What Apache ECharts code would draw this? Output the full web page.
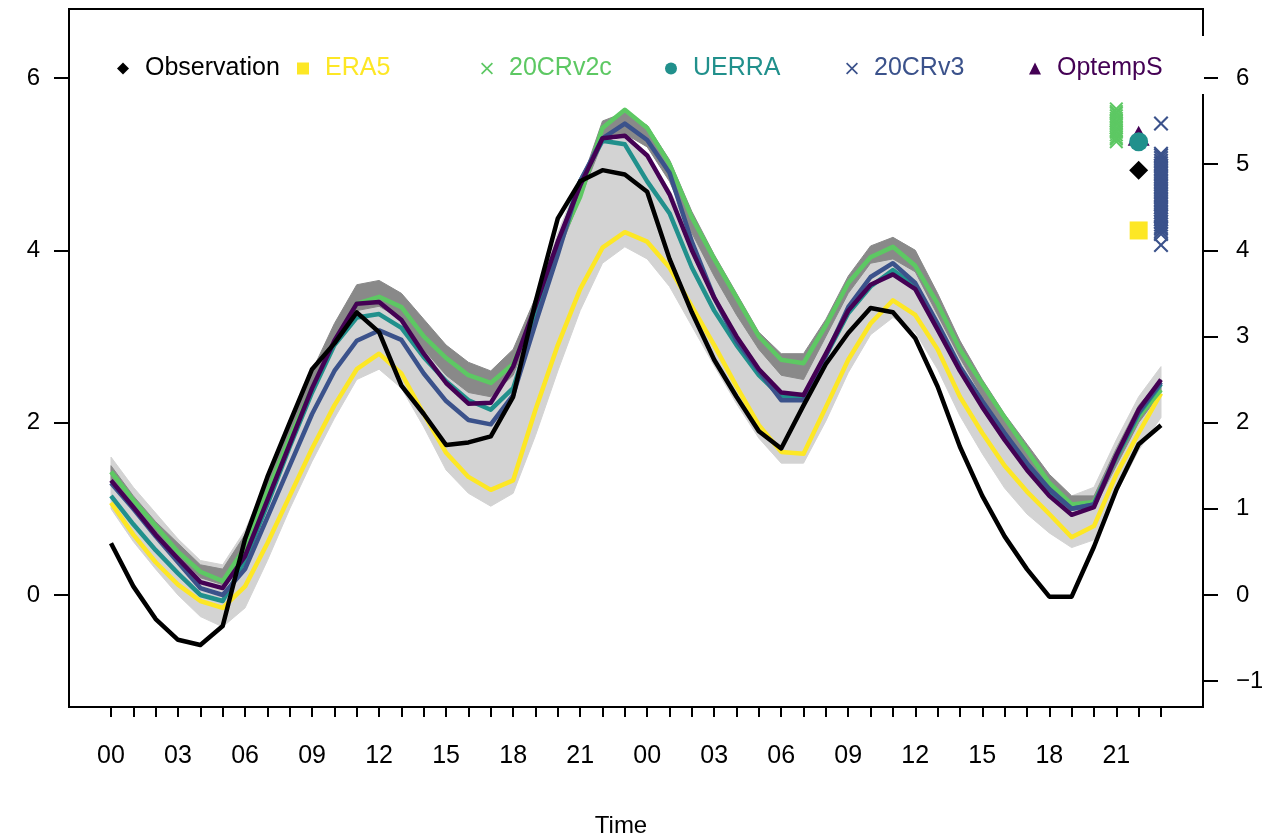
<!DOCTYPE html>
<html>
<head>
<meta charset="utf-8">
<script src="https://cdn.jsdelivr.net/npm/echarts@6/dist/echarts.min.js"></script>
<style>
html,body{margin:0;padding:0;background:#fff;}
#chart{width:1262px;height:840px;}
</style>
</head>
<body>
<div id="chart"></div>
<script>
// ---- data ----
const hours = ['00','01','02','03','04','05','06','07','08','09','10','11','12','13','14','15','16','17','18','19','20','21','22','23',
               '00','01','02','03','04','05','06','07','08','09','10','11','12','13','14','15','16','17','18','19','20','21','22','23'];
const xLabelTicks = [0,3,6,9,12,15,18,21,24,27,30,33,36,39,42,45];
const yTicksLeft = [0,2,4,6];
const yTicksRight = [-1,0,1,2,3,4,5,6];

const observation = [0.60,0.10,-0.28,-0.52,-0.58,-0.36,0.65,1.37,2.00,2.62,2.92,3.28,3.05,2.43,2.10,1.74,1.77,1.84,2.30,3.40,4.37,4.80,4.93,4.88,4.68,3.90,3.28,2.73,2.30,1.90,1.70,2.20,2.68,3.04,3.33,3.28,2.98,2.42,1.72,1.15,0.68,0.30,-0.02,-0.02,0.56,1.22,1.75,1.97];
const era5 = [1.07,0.70,0.38,0.12,-0.07,-0.15,0.10,0.60,1.15,1.70,2.20,2.62,2.80,2.57,2.10,1.65,1.37,1.22,1.33,2.15,2.90,3.55,4.03,4.21,4.10,3.80,3.35,2.90,2.42,1.97,1.66,1.64,2.18,2.73,3.15,3.42,3.25,2.85,2.30,1.88,1.50,1.20,0.94,0.67,0.80,1.40,1.88,2.34];
const c20v2c = [1.43,1.10,0.80,0.50,0.27,0.16,0.55,1.20,1.82,2.40,2.92,3.38,3.46,3.34,3.00,2.75,2.55,2.46,2.68,3.30,4.05,4.62,5.42,5.63,5.42,5.00,4.38,3.90,3.45,3.00,2.73,2.69,3.13,3.62,3.92,4.04,3.82,3.38,2.85,2.45,2.06,1.68,1.30,1.05,1.08,1.60,2.07,2.38];
const uerra = [1.15,0.82,0.52,0.25,0.00,-0.07,0.40,1.05,1.72,2.35,2.90,3.22,3.26,3.10,2.76,2.48,2.26,2.15,2.40,3.20,4.05,4.80,5.27,5.23,4.80,4.43,3.80,3.30,2.90,2.55,2.30,2.30,2.78,3.27,3.58,3.77,3.58,3.10,2.62,2.22,1.85,1.50,1.21,1.00,1.05,1.60,2.10,2.45];
const c20v3 = [1.30,1.00,0.68,0.38,0.08,0.00,0.30,0.90,1.50,2.10,2.60,2.95,3.07,2.96,2.57,2.25,2.03,1.98,2.32,3.15,3.95,4.80,5.30,5.47,5.28,4.90,4.10,3.45,2.95,2.60,2.26,2.26,2.78,3.34,3.69,3.85,3.62,3.15,2.65,2.25,1.88,1.53,1.23,1.00,1.05,1.62,2.12,2.47];
const optemps = [1.33,1.02,0.70,0.42,0.15,0.08,0.45,1.10,1.75,2.40,2.95,3.38,3.40,3.19,2.80,2.46,2.22,2.23,2.65,3.35,4.10,4.75,5.30,5.33,5.10,4.65,4.00,3.45,3.00,2.62,2.35,2.32,2.80,3.30,3.60,3.72,3.55,3.08,2.60,2.18,1.80,1.45,1.15,0.93,1.02,1.62,2.15,2.50];

// ensemble envelopes (light grey: 20CRv3 members, dark grey: 20CRv2c members)
const lightLow  = [1.00,0.62,0.30,0.00,-0.25,-0.37,-0.15,0.40,1.00,1.55,2.05,2.50,2.62,2.40,1.95,1.45,1.18,1.03,1.18,1.85,2.60,3.30,3.85,4.04,3.90,3.58,3.12,2.66,2.22,1.82,1.53,1.53,2.02,2.58,3.02,3.22,3.05,2.62,2.08,1.64,1.24,0.94,0.72,0.55,0.64,1.18,1.68,2.06];
const lightHigh = [1.60,1.25,0.95,0.65,0.40,0.35,0.75,1.35,2.00,2.60,3.05,3.45,3.55,3.35,3.00,2.70,2.50,2.45,2.75,3.40,4.20,4.85,5.25,5.30,5.10,4.70,4.20,3.70,3.25,2.85,2.60,2.60,3.05,3.55,3.90,4.15,4.00,3.45,2.95,2.45,2.05,1.70,1.40,1.15,1.25,1.80,2.30,2.65];
const darkLow   = [1.30,1.00,0.70,0.45,0.20,0.12,0.45,1.15,1.80,2.40,2.90,3.30,3.35,3.20,2.85,2.55,2.35,2.30,2.55,3.20,3.95,4.60,5.25,5.35,5.20,4.80,4.20,3.70,3.25,2.85,2.55,2.50,3.00,3.50,3.85,3.90,3.75,3.25,2.75,2.30,1.90,1.55,1.25,1.00,1.00,1.50,2.00,2.35];
const darkHigh  = [1.50,1.15,0.85,0.60,0.35,0.30,0.70,1.35,2.00,2.60,3.15,3.60,3.65,3.50,3.20,2.90,2.70,2.60,2.85,3.45,4.15,4.75,5.50,5.60,5.45,5.05,4.45,3.95,3.50,3.05,2.80,2.80,3.20,3.70,4.05,4.15,4.00,3.50,2.95,2.50,2.10,1.75,1.40,1.15,1.15,1.70,2.20,2.50];

// maxima shown at the right edge
const c20v2cMaxima = [5.26,5.29,5.31,5.34,5.37,5.39,5.42,5.45,5.48,5.50,5.53,5.56,5.59,5.61,5.64];
const c20v3Maxima  = [4.06,4.19,4.22,4.25,4.27,4.30,4.33,4.36,4.39,4.41,4.44,4.47,4.50,4.53,4.56,4.59,4.62,4.65,4.68,4.71,4.74,4.77,4.80,4.83,4.86,4.89,4.92,4.95,4.98,5.01,5.04,5.07,5.10,5.12,5.47];
const obsMax = [4.93];
const era5Max = [4.23];
const uerraMax = [5.26];
const optempsMax = [5.33];
const maxColumns = {c20v2c: 45, point: 46, c20v3: 47};

// ---- styling ----
const COL = {obs:'#000000', era5:'#FDE725', v2c:'#5DC863', uerra:'#21908C', v3:'#3B528B', opt:'#440154'};
const FONT = "'Liberation Sans', Arial, sans-serif";
const CROSS = 'path://M0,1L1,0L5,4L9,0L10,1L6,5L10,9L9,10L5,6L1,10L0,9L4,5Z';

const pairs = arr => arr.map((v, i) => [i, v]);
const col = (x, arr) => arr.map(v => [x, v]);

function lineSeries(name, data, color, z) {
  return {name, type:'line', data: pairs(data), symbol:'none', z,
    lineStyle:{color, width:4.5, join:'round'}, itemStyle:{color}, silent:true};
}

function bandSeries(name, low, high, color, z) {
  return {
    name, type:'custom', z, silent:true, clip:true,
    data: low.map((v, i) => [i, v, high[i]]),
    encode:{x:0, y:[1, 2]},
    renderItem: (params, api) => {
      if (params.dataIndexInside !== 0) return {type:'group', children:[]};
      const n = params.dataInsideLength;
      const top = [], bot = [];
      for (let k = 0; k < n; k++) {
        top.push(api.coord([api.value(0, k), api.value(2, k)]));
        bot.push(api.coord([api.value(0, k), api.value(1, k)]));
      }
      return {type:'polygon', shape:{points: top.concat(bot.reverse())},
              style:{fill:color, stroke:color, lineWidth:1}};
    }
  };
}

const series = [
  bandSeries('lightBand', lightLow, lightHigh, '#D3D3D3', 1),
  bandSeries('darkBand', darkLow, darkHigh, '#898989', 2),
  lineSeries('ERA5', era5, COL.era5, 3),
  lineSeries('20CRv2c', c20v2c, COL.v2c, 4),
  lineSeries('UERRA', uerra, COL.uerra, 5),
  lineSeries('20CRv3', c20v3, COL.v3, 6),
  lineSeries('OptempS', optemps, COL.opt, 7),
  lineSeries('Observation', observation, COL.obs, 8),
  {name:'20CRv2c', type:'scatter', data:col(maxColumns.c20v2c, c20v2cMaxima), symbol:CROSS, symbolSize:14, z:9,
   itemStyle:{color:COL.v2c, opacity:1}, silent:true},
  {name:'20CRv3', type:'scatter', data:col(maxColumns.c20v3, c20v3Maxima), symbol:CROSS, symbolSize:15, z:9,
   itemStyle:{color:COL.v3, opacity:1}, silent:true},
  {name:'OptempS', type:'scatter', data:col(maxColumns.point, optempsMax), symbol:'triangle', symbolSize:[22,20], z:9,
   itemStyle:{color:COL.opt, opacity:1}, silent:true},
  {name:'UERRA', type:'scatter', data:col(maxColumns.point, uerraMax), symbol:'circle', symbolSize:19, z:10,
   itemStyle:{color:COL.uerra, opacity:1}, silent:true},
  {name:'Observation', type:'scatter', data:col(maxColumns.point, obsMax), symbol:'diamond', symbolSize:19, z:10,
   itemStyle:{color:COL.obs, opacity:1}, silent:true},
  {name:'ERA5', type:'scatter', data:col(maxColumns.point, era5Max), symbol:'rect', symbolSize:18, z:10,
   itemStyle:{color:COL.era5, opacity:1}, silent:true}
];

const legendItems = [
  {name:'Observation', icon:'diamond', color:COL.obs, left:117},
  {name:'ERA5', icon:'rect', color:COL.era5, left:297},
  {name:'20CRv2c', icon:CROSS, color:COL.v2c, left:481},
  {name:'UERRA', icon:'circle', color:COL.uerra, left:665},
  {name:'20CRv3', icon:CROSS, color:COL.v3, left:846},
  {name:'OptempS', icon:'triangle', color:COL.opt, left:1029}
];
const legends = legendItems.map(it => ({
  show:true, left:it.left, top:56, padding:0, orient:'horizontal', selectedMode:false,
  itemWidth:12, itemHeight:12,
  data:[{name:it.name, icon:it.icon, itemStyle:{color:it.color, borderWidth:0}}],
  textStyle:{color:it.color, fontSize:25, fontFamily:FONT, padding:[0,0,0,11]}
}));

const chart = echarts.init(document.getElementById('chart'), null, {renderer:'canvas'});
chart.setOption({
  animation:false,
  backgroundColor:'#ffffff',
  textStyle:{fontFamily:FONT},
  grid:{left:69, right:59, top:9, bottom:133, show:true, borderColor:'#000', borderWidth:2,
        backgroundColor:'transparent', containLabel:false, outerBoundsMode:'none'},
  legend:legends,
  xAxis:{
    type:'value', min:-1.88, max:48.88, position:'bottom',
    axisLine:{show:false, onZero:false},
    splitLine:{show:false},
    axisTick:{show:true, customValues:hours.map((h, i) => i), length:10, lineStyle:{color:'#000', width:2}},
    axisLabel:{show:true, customValues:xLabelTicks, formatter:v => hours[v], fontSize:25, color:'#000',
               fontFamily:FONT, margin:37}
  },
  yAxis:[
    {type:'value', min:-1.3, max:6.8, position:'left',
     axisLine:{show:false, onZero:false}, splitLine:{show:false},
     axisTick:{show:true, customValues:yTicksLeft, length:15, lineStyle:{color:'#000', width:2}},
     axisLabel:{show:true, customValues:yTicksLeft, fontSize:24, color:'#000', fontFamily:FONT, margin:29,
                formatter:v => String(v).replace('-', '\u2212')}},
    {type:'value', min:-1.3, max:6.8, position:'right',
     axisLine:{show:false, onZero:false}, splitLine:{show:false},
     axisTick:{show:true, customValues:yTicksRight, length:15, lineStyle:{color:'#000', width:2}},
     axisLabel:{show:true, customValues:yTicksRight, fontSize:24, color:'#000', fontFamily:FONT, margin:33,
                formatter:v => String(v).replace('-', '\u2212')}}
  ],
  graphic:[
    {type:'rect', shape:{x:1199, y:36, width:5, height:58}, style:{fill:'#ffffff'}, z:100, silent:true},
    {type:'text', x:621, y:826, style:{text:'Time', fontSize:24, fontFamily:FONT, fill:'#000',
      textAlign:'center', textVerticalAlign:'middle'}, silent:true}
  ],
  series:series
});
</script>
</body>
</html>
